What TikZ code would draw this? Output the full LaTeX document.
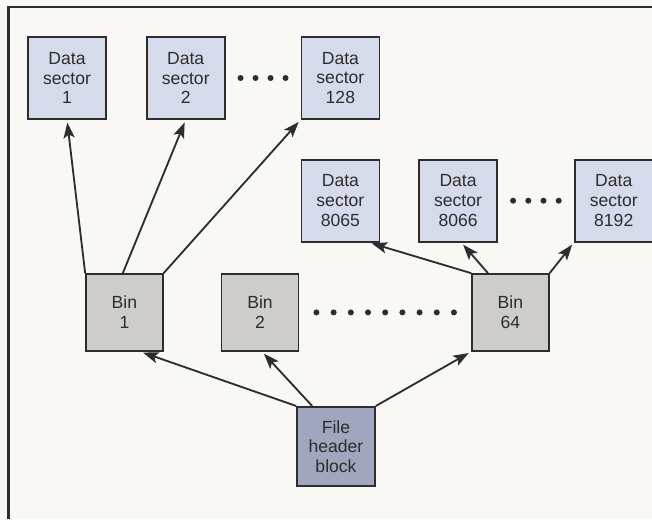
\documentclass[tikz,border=0pt]{standalone}
\usepackage{fontspec}
\setmainfont{Liberation Sans}
\usetikzlibrary{arrows.meta, positioning, calc}

\definecolor{sectorblue}{RGB}{214,219,236}
\definecolor{bingray}{RGB}{207,205,201}
\definecolor{headerblue}{RGB}{160,166,190}
\definecolor{paper}{RGB}{249,248,244}
\definecolor{ink}{RGB}{45,45,45}

\begin{document}
\begin{tikzpicture}[node distance=0.975cm]
        \tikzstyle{sector} = [rectangle, minimum width=1.95cm, minimum height=2.05cm, text centered, align=center, draw=ink, line width=1.2pt, fill=sectorblue, text=ink, font=\fontsize{12.5}{14}\selectfont]
        \tikzstyle{bin} = [rectangle, minimum width=1.92cm, minimum height=1.92cm, text centered, align=center, draw=ink, line width=1.2pt, fill=bingray, text=ink, font=\fontsize{12.5}{14}\selectfont]
        \tikzstyle{header} = [bin, minimum width=1.95cm, minimum height=1.98cm, fill=headerblue]
        \tikzstyle{arrow} = [line width=1.3pt, draw=ink, -{Stealth[length=11pt, width=8pt, inset=2.5pt]}, shorten >=2pt]
        \tikzstyle{dot} = [fill=ink]

        % paper and frame
        \fill[paper] (0,0) rectangle (16.3,-12.975);
        \useasboundingbox (0,0) rectangle (16.3,-12.975);
        \draw[ink, line width=2pt] (0.21,-12.975) -- (0.21,-0.175) -- (16.3,-0.175);

        % data sectors
        \node (ds1) [sector] at (1.675,-1.95) {Data\\sector\\1};
        \node (ds2) [sector, right=of ds1] {Data\\sector\\2};
        \node (ds128) [sector, right=1.875cm of ds2] {Data\\sector\\128};
        \node (ds8065) [sector, below=of ds128] {Data\\sector\\8065};
        \node (ds8066) [sector, right=0.95cm of ds8065] {Data\\sector\\8066};
        \node (ds8192) [sector, right=1.9cm of ds8066] {Data\\sector\\8192};

        % bins and header
        \node (bin1) [bin] at (3.11,-7.81) {Bin\\1};
        \node (bin2) [bin] at (6.5,-7.81) {Bin\\2};
        \node (bin64) [bin] at (12.76,-7.81) {Bin\\64};
        \node (fhb) [header] at (8.4,-11.16) {File\\header\\block};

        % dots
        \foreach \i in {1,...,4}
            \fill[dot] ($(ds2.east)!\i/5!(ds128.west)$) circle (0.075);
        \foreach \i in {1,...,4}
            \fill[dot] ($(ds8066.east)!\i/5!(ds8192.west)$) circle (0.075);
        \foreach \i in {1,...,9}
            \fill[dot] ($(bin2.east)!\i/10!(bin64.west)$) circle (0.075);

        \draw [arrow] (bin1.north west) -- (ds1.south);
        \draw [arrow] ([xshift=-0.04cm]bin1.north) -- (ds2.south);
        \draw [arrow] (bin1.north east) -- (ds128.south west);
        \draw [arrow] (bin64.north west) -- ([xshift=-0.28cm]ds8065.south east);
        \draw [arrow] ([xshift=-0.56cm]bin64.north) -- ([xshift=0.08cm]ds8066.south);
        \draw [arrow] (bin64.north east) -- (ds8192.south west);
        \draw [arrow] (fhb.north west) -- ([xshift=0.4cm]bin1.south);
        \draw [arrow] ([xshift=0.4cm]fhb.north west) -- ([xshift=0.05cm]bin2.south);
        \draw [arrow] (fhb.north east) -- (bin64.south west);
\end{tikzpicture}
\end{document}
